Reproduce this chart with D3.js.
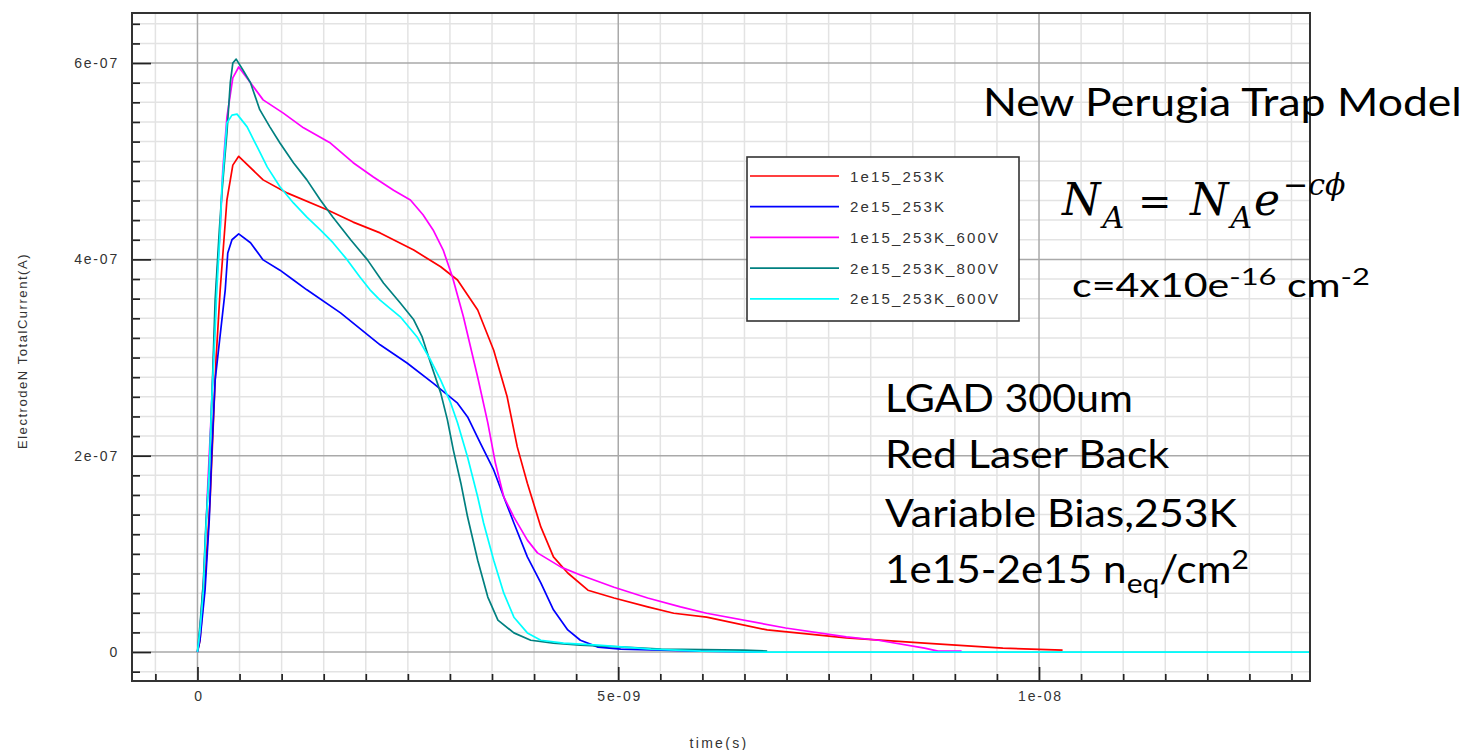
<!DOCTYPE html>
<html><head><meta charset="utf-8">
<script src="https://cdn.jsdelivr.net/npm/d3@7"></script>
<style>
html,body{margin:0;padding:0;background:#fff;}
svg{display:block;}
</style></head>
<body>
<svg id="chart" width="1465" height="750"></svg>
<script>
// Transient current per electrode: time in ns, current in units of 1e-7 A
const seriesNames = ["1e15_253K", "2e15_253K", "1e15_253K_600V", "2e15_253K_800V", "2e15_253K_600V"];
const seriesColors = ["#ff0000", "#0000ff", "#ff00ff", "#008080", "#00ffff"];

const current_1e15_253K = [
  [0,0],[0.03,0.12],[0.09,0.735],[0.15,1.55],[0.18,2.15],[0.22,2.975],[0.27,3.69],[0.35,4.605],[0.42,4.96],[0.49,5.05],
  [0.78,4.81],[1.07,4.675],[1.54,4.505],[1.85,4.38],[2.17,4.27],[2.57,4.095],[2.89,3.925],[3.09,3.79],[3.33,3.485],[3.52,3.075],
  [3.68,2.6],[3.80,2.09],[3.92,1.72],[4.08,1.275],[4.23,0.97],[4.40,0.805],[4.64,0.63],[4.95,0.55],[5.35,0.46],[5.66,0.395],
  [6.05,0.355],[6.77,0.225],[7.71,0.145],[8.64,0.09],[9.57,0.04],[10.28,0.02]
];
const current_2e15_253K = [
  [0,0],[0.03,0.12],[0.09,0.63],[0.14,1.345],[0.17,2.03],[0.21,2.77],[0.33,3.69],[0.36,4.065],[0.41,4.2],[0.49,4.26],
  [0.63,4.17],[0.78,3.995],[0.98,3.89],[1.14,3.79],[1.3,3.69],[1.7,3.455],[2.17,3.13],[2.49,2.945],[2.8,2.74],[3.09,2.535],
  [3.21,2.395],[3.36,2.13],[3.52,1.855],[3.64,1.58],[3.76,1.315],[3.92,0.97],[4.08,0.705],[4.23,0.43],[4.4,0.225],[4.55,0.12],
  [4.76,0.05],[5.03,0.03],[5.98,0.01],[6.76,0]
];
const current_1e15_253K_600V = [
  [0,0],[0.03,0.225],[0.08,0.835],[0.12,1.65],[0.16,2.365],[0.2,3.18],[0.23,3.8],[0.27,4.3],[0.3,4.9],[0.35,5.45],[0.42,5.85],[0.49,5.96],
  [0.63,5.8],[0.78,5.625],[1.02,5.49],[1.26,5.34],[1.58,5.185],[1.85,4.985],[2.09,4.84],[2.33,4.705],[2.53,4.605],[2.68,4.455],
  [2.8,4.3],[2.92,4.095],[3.03,3.82],[3.16,3.415],[3.33,2.8],[3.45,2.335],[3.54,1.925],[3.64,1.58],[3.76,1.375],[3.92,1.14],
  [4.04,1.01],[4.32,0.865],[4.55,0.785],[4.95,0.66],[5.35,0.55],[5.74,0.46],[6.05,0.395],[6.99,0.245],[7.71,0.155],[8.09,0.12],
  [8.64,0.04],[8.8,0.01],[9.08,0.01]
];
const current_2e15_253K_800V = [
  [0,0],[0.03,0.275],[0.07,0.715],[0.1,1.3],[0.14,1.855],[0.17,2.55],[0.21,3.585],[0.26,4.3],[0.29,4.675],[0.35,5.29],[0.39,5.8],[0.42,6.0],[0.46,6.04],
  [0.54,5.93],[0.63,5.8],[0.74,5.525],[0.86,5.35],[0.98,5.185],[1.14,4.985],[1.3,4.81],[1.46,4.605],[1.61,4.43],[1.82,4.2],[2.02,3.995],
  [2.21,3.76],[2.41,3.555],[2.57,3.385],[2.67,3.21],[2.77,2.945],[2.89,2.64],[2.97,2.365],[3.04,2.06],[3.13,1.72],[3.21,1.375],
  [3.33,0.935],[3.45,0.56],[3.57,0.325],[3.76,0.195],[3.96,0.12],[4.23,0.09],[4.55,0.07],[5.07,0.05],[5.51,0.03],[6.49,0.02],[6.77,0.01]
];
const current_2e15_253K_600V = [
  [0,0],[0.03,0.225],[0.07,0.63],[0.1,1.245],[0.14,1.855],[0.17,2.57],[0.21,3.28],[0.23,3.69],[0.27,4.3],[0.29,4.74],[0.32,5.065],[0.35,5.39],[0.41,5.47],[0.47,5.48],
  [0.59,5.35],[0.71,5.145],[0.83,4.94],[0.98,4.74],[1.14,4.575],[1.3,4.43],[1.46,4.3],[1.61,4.17],[1.78,3.995],[1.93,3.82],[2.05,3.69],
  [2.17,3.585],[2.41,3.415],[2.61,3.21],[2.77,2.975],[2.89,2.77],[3.01,2.535],[3.09,2.335],[3.21,1.985],[3.33,1.58],[3.4,1.315],
  [3.52,0.935],[3.64,0.6],[3.76,0.355],[3.92,0.195],[4.08,0.12],[4.35,0.09],[4.76,0.07],[5.39,0.03],[5.98,0.01],[6.7,0],[13.3,0]
];
const seriesData = [current_1e15_253K, current_2e15_253K, current_1e15_253K_600V, current_2e15_253K_800V, current_2e15_253K_600V];

const xTickValues = [0, 5, 10];
const xTickLabels = ["0", "5e-09", "1e-08"];
const yTickValues = [0, 2, 4, 6];
const yTickLabels = ["0", "2e-07", "4e-07", "6e-07"];
const xTitle = "time(s)";
const yTitle = "ElectrodeN TotalCurrent(A)";

const svg = d3.select("#chart");
const L = 132, R = 1310, T = 13, B = 681;

const x = d3.scaleLinear().domain([-0.778, 13.22]).range([L, R]);
const y = d3.scaleLinear().domain([-0.295, 6.51]).range([B, T]);

const xMinor = d3.range(-0.5, 13.01, 0.5).filter(v => !xTickValues.some(t => Math.abs(t - v) < 1e-6));
const yMinor = d3.range(-0.2, 6.41, 0.2).filter(v => !yTickValues.some(t => Math.abs(t - v) < 1e-6));

// grid
const grid = svg.append("g");
grid.selectAll(".hmin").data(yMinor).join("line")
  .attr("x1", L).attr("x2", R).attr("y1", d => y(d)).attr("y2", d => y(d))
  .attr("stroke", "#e3e3e3").attr("stroke-width", 1.5);
grid.selectAll(".vmin").data(xMinor).join("line")
  .attr("y1", T).attr("y2", B).attr("x1", d => x(d)).attr("x2", d => x(d))
  .attr("stroke", "#e3e3e3").attr("stroke-width", 1.5);
grid.selectAll(".hmaj").data(yTickValues).join("line")
  .attr("x1", L).attr("x2", R).attr("y1", d => y(d)).attr("y2", d => y(d))
  .attr("stroke", "#a9a9a9").attr("stroke-width", 1.5);
grid.selectAll(".vmaj").data(xTickValues).join("line")
  .attr("y1", T).attr("y2", B).attr("x1", d => x(d)).attr("x2", d => x(d))
  .attr("stroke", "#a9a9a9").attr("stroke-width", 1.5);

// curves
svg.append("clipPath").attr("id", "plotClip").append("rect")
  .attr("x", L).attr("y", T).attr("width", R - L).attr("height", B - T);
const line = d3.line().x(d => x(d[0])).y(d => y(d[1]));
svg.append("g").attr("clip-path", "url(#plotClip)")
  .selectAll("path").data(seriesData).join("path")
  .attr("d", line).attr("fill", "none")
  .attr("stroke", (d, i) => seriesColors[i]).attr("stroke-width", 1.7)
  .attr("stroke-linejoin", "round");

// axes
const axisFont = g => g.selectAll("text")
  .attr("font-family", "'Liberation Sans', Arial, sans-serif")
  .attr("font-size", 14).attr("fill", "#333").attr("letter-spacing", "1.8px");

const yMajorAxis = svg.append("g").attr("transform", `translate(${L},0)`)
  .call(d3.axisLeft(y).tickValues(yTickValues).tickFormat((d, i) => yTickLabels[i])
    .tickSizeInner(-19).tickSizeOuter(0).tickPadding(13));
const yMinorAxis = svg.append("g").attr("transform", `translate(${L},0)`)
  .call(d3.axisLeft(y).tickValues(yMinor).tickFormat("").tickSizeInner(-8).tickSizeOuter(0));
const xMajorAxis = svg.append("g").attr("transform", `translate(0,${B})`)
  .call(d3.axisBottom(x).tickValues(xTickValues).tickFormat((d, i) => xTickLabels[i])
    .tickSizeInner(-14).tickSizeOuter(0).tickPadding(10));
const xMinorAxis = svg.append("g").attr("transform", `translate(0,${B})`)
  .call(d3.axisBottom(x).tickValues(xMinor).tickFormat("").tickSizeInner(-7).tickSizeOuter(0));
[yMajorAxis, yMinorAxis, xMajorAxis, xMinorAxis].forEach(g => {
  g.select(".domain").remove();
  g.selectAll("line").attr("stroke", "#222").attr("stroke-width", 1.7);
  axisFont(g);
});
xMajorAxis.selectAll("text").attr("dx", "1px");

// frame
svg.append("rect").attr("x", L).attr("y", T).attr("width", R - L).attr("height", B - T)
  .attr("fill", "none").attr("stroke", "#333").attr("stroke-width", 2);

// axis titles
svg.append("text").attr("x", 719).attr("y", 748).attr("text-anchor", "middle")
  .attr("font-family", "'Liberation Sans', Arial, sans-serif").attr("font-size", 14)
  .attr("letter-spacing", "2.3px").attr("fill", "#333").text(xTitle);
svg.append("text").attr("transform", "translate(27,351) rotate(-90)").attr("text-anchor", "middle")
  .attr("font-family", "'Liberation Sans', Arial, sans-serif").attr("font-size", 13)
  .attr("letter-spacing", "1.55px").attr("fill", "#333").text(yTitle);

// legend
const legend = svg.append("g").attr("transform", "translate(747,157)");
legend.append("rect").attr("width", 272).attr("height", 164)
  .attr("fill", "#fff").attr("stroke", "#333").attr("stroke-width", 1.6);
const rows = legend.selectAll("g.row").data(seriesNames).join("g")
  .attr("transform", (d, i) => `translate(0,${19 + i * 30.7})`);
rows.append("line").attr("x1", 3).attr("x2", 92).attr("y1", 0).attr("y2", 0)
  .attr("stroke", (d, i) => seriesColors[i]).attr("stroke-width", 1.7);
rows.append("text").attr("x", 103).attr("y", 5.5)
  .attr("font-family", "'Liberation Sans', Arial, sans-serif").attr("font-size", 15)
  .attr("letter-spacing", "2.15px").attr("fill", "#333").text(d => d);

// annotations
const noteFont = "Lato, 'Open Sans', sans-serif";
function fitWidth(textSel, left, width) {
  const bb = textSel.node().getBBox();
  const s = width / bb.width;
  textSel.attr("transform", `translate(${left},0) scale(${s},1) translate(${-bb.x},0)`);
}
function note(str, left, baseline, size, width) {
  const t = svg.append("text").attr("x", 0).attr("y", baseline)
    .attr("font-family", noteFont).attr("font-size", size).attr("fill", "#000").text(str);
  fitWidth(t, left, width);
  return t;
}
note("New Perugia Trap Model", 983, 116, 38, 479);
note("LGAD 300um", 885, 412, 38, 248);
note("Red Laser Back", 885, 468, 38, 285);
note("Variable Bias,253K", 885, 527, 38, 353);

const fluence = svg.append("text").attr("x", 0).attr("y", 583)
  .attr("font-family", noteFont).attr("font-size", 38).attr("fill", "#000");
fluence.append("tspan").text("1e15-2e15 n");
fluence.append("tspan").attr("dy", 10).attr("font-size", 27).text("eq");
fluence.append("tspan").attr("dy", -10).text("/cm");
fluence.append("tspan").attr("dy", -14).attr("font-size", 27).text("2");
fitWidth(fluence, 885, 364);

const cconst = svg.append("text").attr("x", 0).attr("y", 297)
  .attr("font-family", noteFont).attr("font-size", 32).attr("fill", "#000");
cconst.append("tspan").text("c=4x10e");
cconst.append("tspan").attr("dy", -12).attr("font-size", 24).text("-16");
cconst.append("tspan").attr("dy", 12).text(" cm");
cconst.append("tspan").attr("dy", -12).attr("font-size", 24).text("-2");
fitWidth(cconst, 1072, 298);

// trap model formula: N_A = N_A e^(-c phi)
const mathFont = "'DejaVu Serif', serif";
function symbolWithSub(left, main, sub) {
  const t = svg.append("text").attr("x", left).attr("y", 215)
    .attr("font-family", mathFont).attr("font-style", "italic").attr("font-size", 44).attr("fill", "#000");
  t.append("tspan").text(main);
  t.append("tspan").attr("dx", 2).attr("dy", 13).attr("font-size", 30).text(sub);
  return t;
}
symbolWithSub(1062, "N", "A");
svg.append("text").attr("x", 1138).attr("y", 215).attr("font-family", mathFont)
  .attr("font-size", 40).attr("fill", "#000").text("=");
symbolWithSub(1190, "N", "A");
const expo = svg.append("text").attr("x", 1254).attr("y", 215)
  .attr("font-family", mathFont).attr("font-style", "italic").attr("font-size", 44).attr("fill", "#000");
expo.append("tspan").text("e");
expo.append("tspan").attr("dx", 3).attr("dy", -20).attr("font-size", 30).text("\u2212c\u03d5");
</script>
</body></html>
